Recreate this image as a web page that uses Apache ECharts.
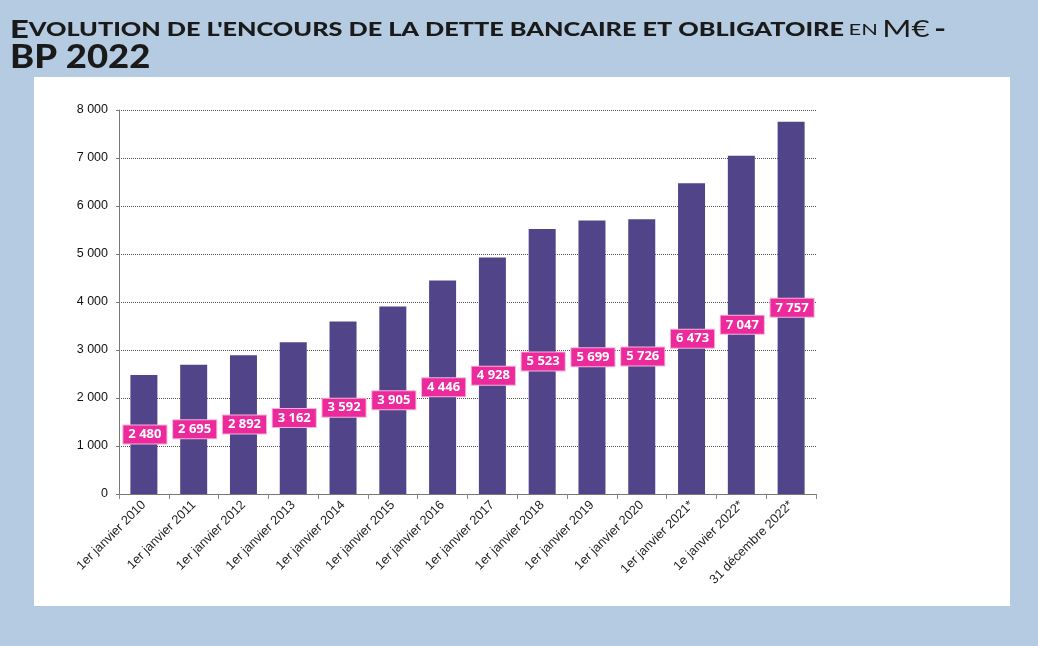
<!DOCTYPE html>
<html>
<head>
<meta charset="utf-8">
<script src="https://cdn.jsdelivr.net/npm/echarts@6/dist/echarts.min.js"></script>
<style>
  html, body { margin: 0; padding: 0; background: #b4cbe1; }
  #myChart { width: 1038px; height: 646px; }
</style>
</head>
<body>
<div id="myChart"></div>
<script>
// catégories (axe des x)
var categories = [
  '1er janvier 2010', '1er janvier 2011', '1er janvier 2012', '1er janvier 2013',
  '1er janvier 2014', '1er janvier 2015', '1er janvier 2016', '1er janvier 2017',
  '1er janvier 2018', '1er janvier 2019', '1er janvier 2020', '1er janvier 2021*',
  '1e janvier 2022*', '31 décembre 2022*'
]
// encours de la dette en M€
var encours = [2480, 2695, 2892, 3162, 3592, 3905, 4446, 4928, 5523, 5699, 5726, 6473, 7047, 7757]
var yTicks = [0, 1000, 2000, 3000, 4000, 5000, 6000, 7000, 8000]

function fmt(v) {
  return String(v).replace(/\B(?=(\d{3})+(?!\d))/g, ' ')
}

var titleColor = '#1a1a1a'

var myChart = echarts.init(document.getElementById('myChart'))
myChart.setOption({
  backgroundColor: '#b4cbe1',
  animation: false,
  graphic: [
    {
      // panneau blanc
      type: 'rect',
      left: 34, top: 77,
      shape: { width: 976, height: 529 },
      style: { fill: '#ffffff' },
      z: -10
    },
    {
      // titre ligne 1 (petites capitales, étirées)
      type: 'text',
      x: 10, y: 18,
      scaleX: 1.365,
      style: {
        text: '{e|E}{b|VOLUTION DE L\'ENCOURS DE LA DETTE BANCAIRE ET OBLIGATOIRE} {n|EN} {m|M€} {b2|-}',
        verticalAlign: 'top',
        rich: {
          e: { fontFamily: 'Lato', fontWeight: 900, fontSize: 24, fill: titleColor, lineHeight: 24 },
          b: { fontFamily: 'Lato', fontWeight: 900, fontSize: 18.5, fill: titleColor, lineHeight: 24 },
          n: { fontFamily: 'Lato', fontWeight: 400, fontSize: 16, fill: titleColor, lineHeight: 24 },
          m: { fontFamily: 'Lato', fontWeight: 400, fontSize: 23, fill: titleColor, lineHeight: 24 },
          b2: { fontFamily: 'Lato', fontWeight: 900, fontSize: 23, fill: titleColor, lineHeight: 24 }
        }
      }
    },
    {
      // titre ligne 2
      type: 'text',
      x: 10, y: 42,
      scaleX: 1.14,
      style: {
        text: 'BP 2022',
        verticalAlign: 'top',
        font: '900 32px Lato',
        fill: titleColor
      }
    }
  ],
  grid: {
    left: 119,
    right: 222,
    top: 110,
    bottom: 152,
    containLabel: false
  },
  xAxis: {
    type: 'category',
    data: categories,
    axisLine: { lineStyle: { color: '#777', width: 1 } },
    axisTick: { show: true, length: 5, lineStyle: { color: '#888' } },
    axisLabel: {
      interval: 0,
      rotate: 45,
      fontFamily: 'Liberation Sans',
      fontSize: 12.8,
      color: '#222',
      margin: 9
    }
  },
  yAxis: {
    type: 'value',
    min: 0,
    max: 8000,
    interval: 1000,
    axisLine: { show: true, lineStyle: { color: '#777', width: 1 } },
    axisTick: { show: true, length: 3, lineStyle: { color: '#777' } },
    axisLabel: {
      fontFamily: 'Liberation Sans',
      fontSize: 12.5,
      color: '#111',
      margin: 11,
      formatter: function (v) { return yTicks.indexOf(v) >= 0 ? fmt(v) : '' }
    },
    splitLine: { lineStyle: { color: '#555', width: 1, type: [1, 1] } }
  },
  series: [
    {
      name: 'Encours',
      type: 'bar',
      data: encours,
      barWidth: 27,
      itemStyle: { color: '#524489' },
      label: {
        show: true,
        position: 'inside',
        offset: [1, 0],
        formatter: function (p) { return fmt(p.value) },
        fontFamily: 'Open Sans',
        fontWeight: 'bold',
        fontSize: 13,
        lineHeight: 13,
        color: '#ffffff',
        backgroundColor: '#ec2a9c',
        borderColor: '#f5b3da',
        borderWidth: 1,
        padding: [3, 5, 2, 5]
      }
    }
  ]
})
</script>
</body>
</html>
